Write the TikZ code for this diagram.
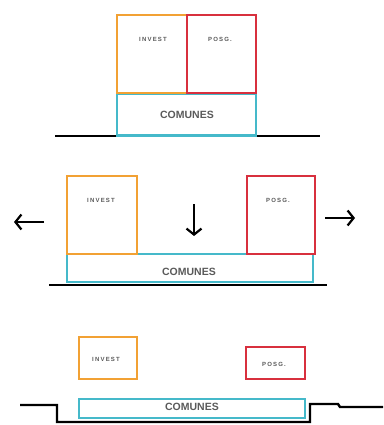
\documentclass[tikz,border=0pt]{standalone}
\usepackage{fontspec}
\setmainfont{Liberation Sans}
\newfontfamily\widefont[LetterSpace=20]{Liberation Sans}
\usetikzlibrary{arrows.meta}
\definecolor{inv}{HTML}{F2A134}
\definecolor{pos}{HTML}{D8303E}
\definecolor{com}{HTML}{45B9CA}
\definecolor{txt}{HTML}{5A5A5A}
\tikzset{
  bx/.style={draw=#1, line width=2.4pt, inner sep=0pt, outer sep=0pt, rectangle},
  lbl/.style={text=txt, font=\widefont\bfseries\fontsize{6}{7}\selectfont, inner sep=0pt},
  clbl/.style={text=txt, font=\bfseries\fontsize{10.5}{12}\selectfont, inner sep=0pt},
  ground/.style={draw=black, line width=2.4pt},
  mv/.style={draw=black, line width=2.2pt, -{Straight Barb[length=6pt,width=15pt,line width=2.2pt]}}
}
\begin{document}
\begin{tikzpicture}[x=1pt,y=-1pt]
\useasboundingbox[fill=white] (0,0) rectangle (383,425);
% ---------- top ----------
\draw[ground] (55,136) coordinate (g1a) -- (320,136) coordinate (g1b);
\node[bx=com, minimum width=139pt, minimum height=42pt] (c1) at (186.5,114.5) {};
\node[bx=inv, minimum width=70pt, minimum height=78pt] (i1) at (152,54) {};
\node[bx=pos, minimum width=69pt, minimum height=78pt] (p1) at (221.5,54) {};
\node[lbl] (ti1) at (153,39) {INVEST};
\node[lbl] (tp1) at (220,39) {POSG.};
\node[clbl] (tc1) at (187,115) {COMUNES};
% ---------- middle ----------
\draw[ground] (49,285) coordinate (g2a) -- (327,285) coordinate (g2b);
\node[bx=com, minimum width=246pt, minimum height=28pt] (c2) at (190,268) {};
\node[bx=inv, minimum width=70pt, minimum height=78pt] (i2) at (102,215) {};
\node[bx=pos, minimum width=68pt, minimum height=78pt] (p2) at (281,215) {};
\node[lbl] (ti2) at (101,200) {INVEST};
\node[lbl] (tp2) at (278,200) {POSG.};
\node[clbl] (tc2) at (189,272) {COMUNES};
\coordinate (la) at (44,222); \coordinate (lb) at (14,222);
\coordinate (ra) at (325,218); \coordinate (rb) at (355,218);
\coordinate (da) at (194,204); \coordinate (db) at (194,236);
\draw[mv] (la) -- (lb);
\draw[mv] (ra) -- (rb);
\draw[mv] (da) -- (db);
% ---------- bottom ----------
\draw[ground, line join=miter] (20,405) coordinate (g3a) -- (57,405) -- (57,422) -- (310,422) -- (310,404) -- (338,404) -- (340,407) -- (383,407) coordinate (g3b);
\node[bx=com, minimum width=226pt, minimum height=19pt] (c3) at (192,408.5) {};
\node[bx=inv, minimum width=58pt, minimum height=42pt] (i3) at (108,358) {};
\node[bx=pos, minimum width=59pt, minimum height=32pt] (p3) at (275.5,363) {};
\node[lbl] (ti3) at (106,359) {INVEST};
\node[lbl] (tp3) at (274,364) {POSG.};
\node[clbl] (tc3) at (192,407) {COMUNES};
\end{tikzpicture}
\end{document}
